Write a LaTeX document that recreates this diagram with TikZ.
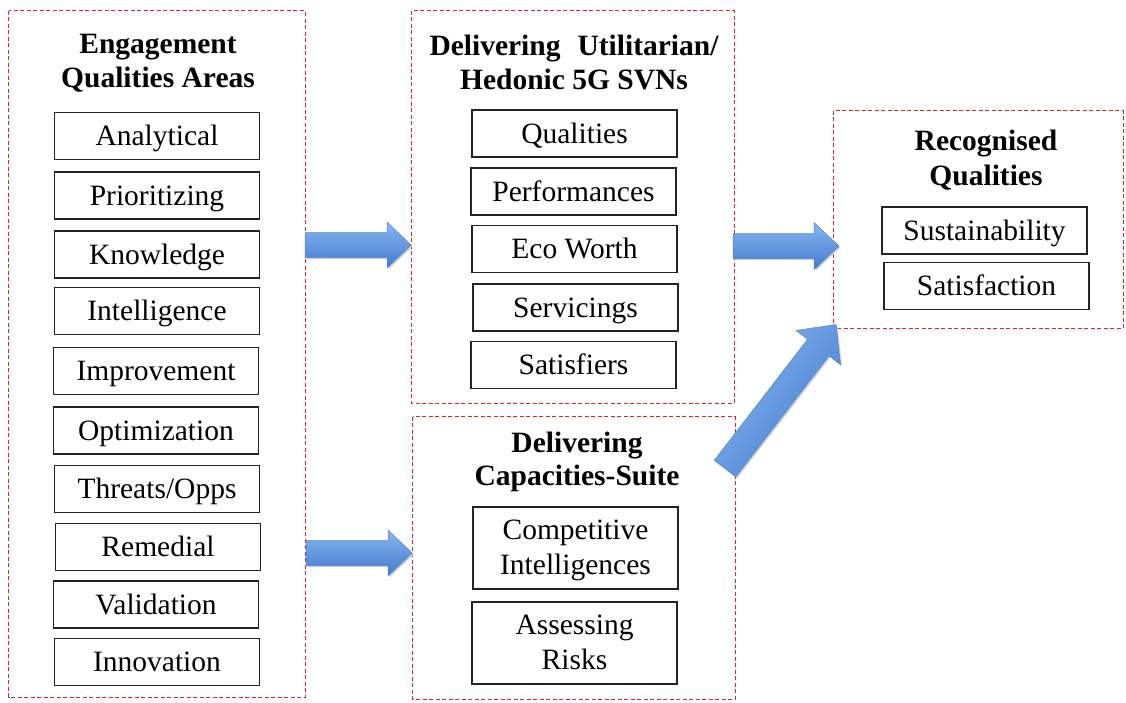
\documentclass[tikz,border=0pt]{standalone}
\usepackage{fontspec}
\setmainfont{Liberation Serif}
\usetikzlibrary{calc}

\definecolor{dashred}{RGB}{215,35,50}
\definecolor{arrowlight}{RGB}{135,182,240}
\definecolor{arrowdark}{RGB}{68,122,205}
\definecolor{arrowedge}{RGB}{88,132,196}
\definecolor{arrowshadow}{RGB}{200,205,215}
\definecolor{boxline}{RGB}{35,35,35}

% Block arrow from a tail coordinate to a tip coordinate:
% #1 tail, #2 tip, #3 shaft half-width, #4 head half-width, #5 head length (pt)
\newcommand\blockarrow[5]{%
  \pgfpointdiff{\pgfpointanchor{#1}{center}}{\pgfpointanchor{#2}{center}}%
  \pgfgetlastxy\bArrDx\bArrDy
  \pgfmathsetmacro\bArrLen{veclen(\bArrDx,\bArrDy)}%
  \pgfmathsetmacro\bArrAng{atan2(\bArrDy,\bArrDx)}%
  \pgfmathsetmacro\bArrNeck{\bArrLen-#5}%
  \fill[arrowshadow, shift={(#1)}, xshift=1.5pt, yshift=-1.5pt, rotate=\bArrAng]
    (0pt,#3pt) -- (\bArrNeck pt,#3pt) -- (\bArrNeck pt,#4pt) -- (\bArrLen pt,0pt)
    -- (\bArrNeck pt,-#4pt) -- (\bArrNeck pt,-#3pt) -- (0pt,-#3pt) -- cycle;
  \shade[blockarrowstyle, shading angle=\bArrAng, shift={(#1)}, rotate=\bArrAng]
    (0pt,#3pt) -- (\bArrNeck pt,#3pt) -- (\bArrNeck pt,#4pt) -- (\bArrLen pt,0pt)
    -- (\bArrNeck pt,-#4pt) -- (\bArrNeck pt,-#3pt) -- (0pt,-#3pt) -- cycle;
}

\tikzset{
  groupbox/.style={inner sep=0pt},
  groupframe/.style={color=dashred, dash pattern=on 4pt off 2.5pt, line width=1pt},
  grouptitle/.style={anchor=base, inner sep=0pt,
    font=\fontsize{29.5}{35}\selectfont\bfseries},
  itembox/.style={draw=boxline, line width=1.2pt, fill=white, inner sep=0pt,
    minimum width=205pt, minimum height=47pt, text height=24pt, text depth=5pt,
    font=\fontsize{29.5}{35}\selectfont},
  itembox2/.style={itembox, align=center, minimum height=82pt,
    text height=57pt, text depth=5pt},
  blockarrowstyle/.style={top color=arrowlight, bottom color=arrowdark,
    draw=arrowedge, line width=0.5pt, line join=miter},
}

\begin{document}
\begin{tikzpicture}[x=1pt, y=-1pt]
  \fill[white] (0,0) rectangle (1126,702);
  \useasboundingbox (0,0) rectangle (1126,702);

  % group areas
  \node[groupbox, minimum width=296pt, minimum height=686pt] (g1) at (157,354) {};
  \node[groupbox, minimum width=322pt, minimum height=392pt] (g2) at (573,207) {};
  \node[groupbox, minimum width=322pt, minimum height=282pt] (g3) at (574,558) {};
  \node[groupbox, minimum width=289pt, minimum height=217pt] (g4) at (978.5,219.5) {};

  % group titles
  \node[grouptitle] (t1a) at (158,53) {Engagement};
  \node[grouptitle] (t1b) at (158,87) {Qualities Areas};
  \node[grouptitle] (t2a) at (574,55) {Delivering\hspace{17pt}Utilitarian/};
  \node[grouptitle] (t2b) at (574,89) {Hedonic 5G SVNs};
  \node[grouptitle] (t3a) at (577,452) {Delivering};
  \node[grouptitle] (t3b) at (577,485) {Capacities-Suite};
  \node[grouptitle] (t4a) at (986,150) {Recognised};
  \node[grouptitle] (t4b) at (986,185) {Qualities};

  % engagement qualities areas
  \node[itembox] (e1)  at (157,136)   {Analytical};
  \node[itembox] (e2)  at (157,195.5) {Prioritizing};
  \node[itembox] (e3)  at (157,254.5) {Knowledge};
  \node[itembox] (e4)  at (157,311)   {Intelligence};
  \node[itembox] (e5)  at (156,371)   {Improvement};
  \node[itembox] (e6)  at (156,430.5) {Optimization};
  \node[itembox] (e7)  at (157,489)   {Threats/Opps};
  \node[itembox] (e8)  at (158,547)   {Remedial};
  \node[itembox] (e9)  at (156,604.5) {Validation};
  \node[itembox] (e10) at (157,662)   {Innovation};

  % utilitarian / hedonic SVNs
  \node[itembox] (u1) at (574.5,133.5) {Qualities};
  \node[itembox] (u2) at (573.5,191.5) {Performances};
  \node[itembox] (u3) at (574.5,249)   {Eco Worth};
  \node[itembox] (u4) at (575.5,307.5) {Servicings};
  \node[itembox] (u5) at (573.5,365)   {Satisfiers};

  % capacities suite
  \node[itembox2] (c1) at (575.5,548) {Competitive\\Intelligences};
  \node[itembox2] (c2) at (574.5,643) {Assessing\\Risks};

  % recognised qualities
  \node[itembox] (r1) at (984.5,230.5) {Sustainability};
  \node[itembox] (r2) at (986.5,286)   {Satisfaction};

  % dashed frames round the groups
  \foreach \g in {g1,g2,g3,g4}
    \draw[groupframe] (\g.north west) rectangle (\g.south east);

  % arrow ends
  \coordinate (a1s) at (305,245);
  \coordinate (a1e) at (411,245);
  \coordinate (a2s) at (306,553);
  \coordinate (a2e) at (412,553);
  \coordinate (a3s) at (733,246);
  \coordinate (a3e) at (839,246);
  \coordinate (a4s) at (725,468.5);
  \coordinate (a4e) at (836,324.5);

  \blockarrow{a1s}{a1e}{12.5}{23}{24}
  \blockarrow{a2s}{a2e}{12.5}{23}{24}
  \blockarrow{a3s}{a3e}{12.5}{23.5}{25}
  \blockarrow{a4s}{a4e}{13.5}{28}{29}
\end{tikzpicture}
\end{document}
